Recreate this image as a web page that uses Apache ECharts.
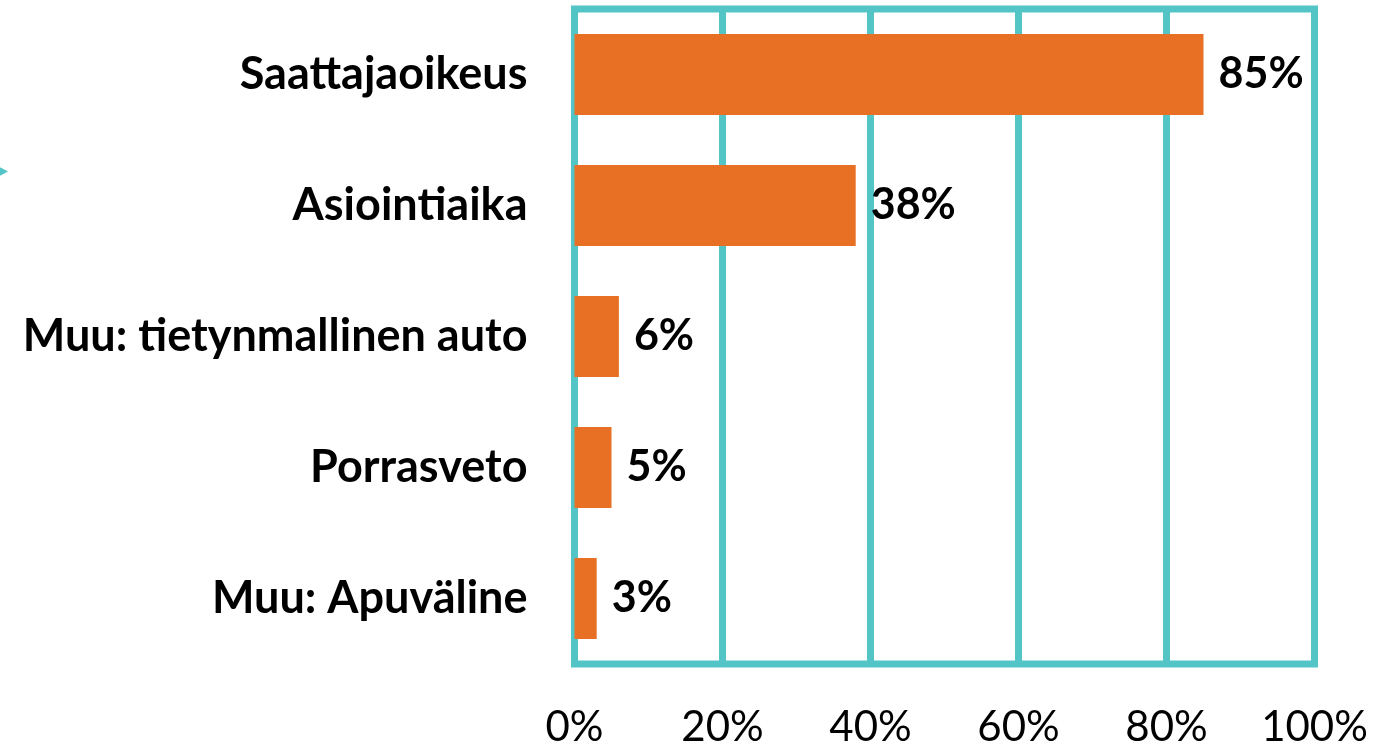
<!DOCTYPE html>
<html>
<head>
<meta charset="utf-8">
<script src="https://cdn.jsdelivr.net/npm/echarts@6/dist/echarts.min.js"></script>
<style>
  html, body { margin: 0; padding: 0; background: #fff; }
  #chart { width: 1399px; height: 748px; }
</style>
</head>
<body>
<div id="chart"></div>
<script>
  var categories = ["Saattajaoikeus", "Asiointiaika", "Muu: tietynmallinen auto", "Porrasveto", "Muu: Apuväline"];
  var values = [85, 38, 6, 5, 3];
  var xTicks = [0, 20, 40, 60, 80, 100];

  var teal = "#53C5C7";
  var orange = "#E87024";

  var chart = echarts.init(document.getElementById("chart"));
  chart.setOption({
    animation: false,
    grid: {
      left: 574.5,
      right: 84.5,
      top: 9,
      bottom: 82,
      show: true,
      borderColor: teal,
      borderWidth: 7,
      containLabel: false
    },
    graphic: [
      {
        type: "polygon",
        shape: { points: [[-8, 163], [8, 171.5], [-8, 180]] },
        style: { fill: teal }
      }
    ],
    xAxis: {
      type: "value",
      min: xTicks[0],
      max: xTicks[xTicks.length - 1],
      interval: 20,
      axisLine: { show: false },
      axisTick: { show: false },
      splitLine: { show: true, lineStyle: { color: teal, width: 7 } },
      axisLabel: {
        margin: 42,
        fontFamily: "Lato",
        fontSize: 42,
        color: "#000",
        formatter: "{value}%"
      }
    },
    yAxis: {
      type: "category",
      inverse: true,
      data: categories,
      axisLine: { show: false },
      axisTick: { show: false },
      axisLabel: {
        margin: 47,
        fontFamily: "Lato",
        fontWeight: "bold",
        fontSize: 45,
        color: "#000"
      }
    },
    series: [
      {
        type: "bar",
        data: values,
        barCategoryGap: "38%",
        itemStyle: { color: orange },
        label: {
          show: true,
          position: "right",
          distance: 15,
          fontFamily: "Lato",
          fontWeight: "bold",
          fontSize: 43,
          color: "#000",
          formatter: "{c}%"
        }
      }
    ]
  });
</script>
</body>
</html>
